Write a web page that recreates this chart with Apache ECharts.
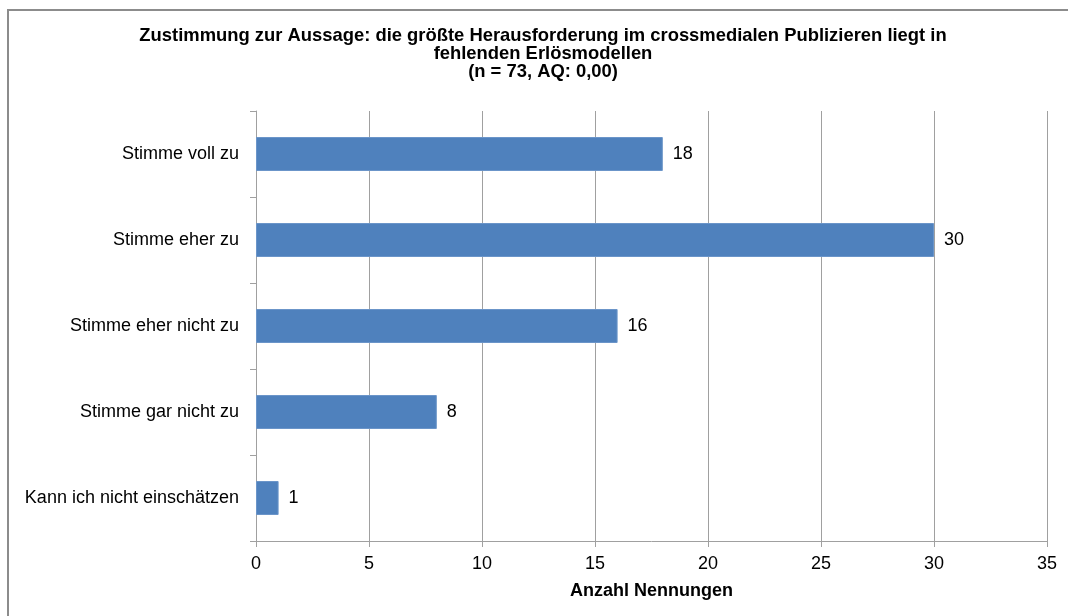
<!DOCTYPE html>
<html>
<head>
<meta charset="utf-8">
<script src="https://cdn.jsdelivr.net/npm/echarts@6/dist/echarts.min.js"></script>
<style>
  html, body { margin: 0; padding: 0; background: #fff; }
  #chart { width: 1068px; height: 616px; }
</style>
</head>
<body>
<div id="chart"></div>
<script>
// Antwortkategorien (von oben nach unten) und Anzahl der Nennungen
const categories = [
  'Stimme voll zu',
  'Stimme eher zu',
  'Stimme eher nicht zu',
  'Stimme gar nicht zu',
  'Kann ich nicht einschätzen'
];
const counts = [18, 30, 16, 8, 1];
const titleLines = [
  'Zustimmung zur Aussage: die größte Herausforderung im crossmedialen Publizieren liegt in',
  'fehlenden Erlösmodellen',
  '(n = 73, AQ: 0,00)'
];
const xAxisName = 'Anzahl Nennungen';

const chart = echarts.init(document.getElementById('chart'), null, { renderer: 'canvas' });
const font = 'Liberation Sans, Arial, sans-serif';

chart.setOption({
  animation: false,
  backgroundColor: '#fff',
  graphic: [{
    type: 'rect',
    shape: { x: 8, y: 10, width: 1080, height: 640 },
    style: { fill: 'none', stroke: '#8c8c8c', lineWidth: 2 },
    silent: true
  }],
  title: {
    text: titleLines.join('\n'),
    left: 538,
    textAlign: 'center',
    top: 22,
    textStyle: {
      fontFamily: font,
      fontWeight: 'bold',
      fontSize: 18.4,
      lineHeight: 18,
      color: '#000'
    }
  },
  grid: { left: 256, right: 21, top: 111, bottom: 75, containLabel: false },
  xAxis: {
    type: 'value',
    min: 0,
    max: 35,
    interval: 5,
    name: xAxisName,
    nameLocation: 'middle',
    nameGap: 41,
    nameTextStyle: { fontFamily: font, fontWeight: 'bold', fontSize: 18, color: '#000' },
    axisLine: { show: true, lineStyle: { color: '#a0a0a0', width: 1 } },
    axisTick: { show: true, length: 6, lineStyle: { color: '#a0a0a0' } },
    axisLabel: { fontFamily: font, fontSize: 18, color: '#000', margin: 14 },
    splitLine: { show: true, lineStyle: { color: '#a0a0a0', width: 1 } }
  },
  yAxis: {
    type: 'category',
    data: categories,
    inverse: true,
    axisLine: { show: true, lineStyle: { color: '#a0a0a0', width: 1 } },
    axisTick: { show: true, length: 6, alignWithLabel: false, lineStyle: { color: '#a0a0a0' } },
    axisLabel: { fontFamily: font, fontSize: 18, color: '#000', margin: 17 },
    splitLine: { show: false }
  },
  series: [{
    type: 'bar',
    data: counts,
    barWidth: 34,
    itemStyle: { color: '#4f81bd', borderColor: '#6b95c9', borderWidth: 1 },
    label: {
      show: true,
      position: 'right',
      distance: 10,
      fontFamily: font,
      fontSize: 18,
      color: '#000'
    }
  }]
});
</script>
</body>
</html>
